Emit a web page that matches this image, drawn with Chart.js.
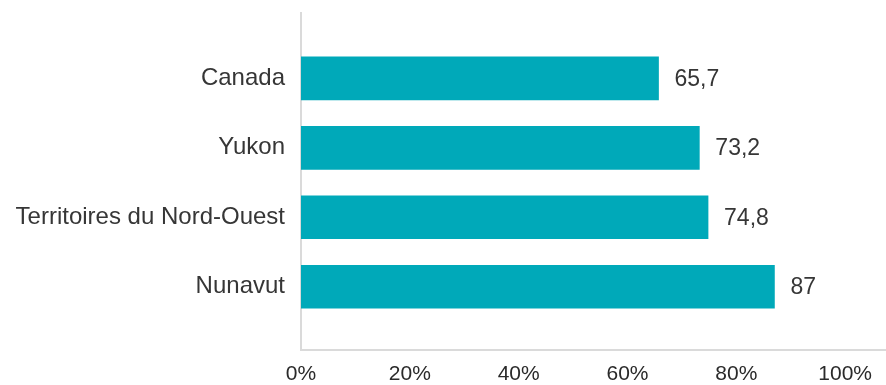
<!DOCTYPE html>
<html lang="fr">
<head>
<meta charset="utf-8">
<script src="https://cdn.jsdelivr.net/npm/chart.js@4/dist/chart.umd.min.js"></script>
<style>
  html, body { margin: 0; padding: 0; background: #fff; }
  #wrap { width: 886px; height: 385px; position: relative; }
</style>
</head>
<body>
<div id="wrap"><canvas id="chart"></canvas></div>
<script>
// Regions and their share (%)
const regions = ['Canada', 'Yukon', 'Territoires du Nord-Ouest', 'Nunavut'];
const shares = [65.7, 73.2, 74.8, 87];
const xTicks = [0, 20, 40, 60, 80, 100];

const BAR_COLOR = '#00a9b9';
const TEXT_COLOR = '#363636';
const AXIS_COLOR = '#dadada';
const FONT = "'Liberation Sans', Arial, Helvetica, sans-serif";

// Writes the value (decimal comma) to the right of each bar
const valueLabels = {
    id: 'valueLabels',
    afterDatasetsDraw(chart) {
        const ctx = chart.ctx;
        const meta = chart.getDatasetMeta(0);
        ctx.save();
        ctx.font = `23px ${FONT}`;
        ctx.fillStyle = TEXT_COLOR;
        ctx.textAlign = 'left';
        ctx.textBaseline = 'middle';
        meta.data.forEach((bar, i) => {
            const txt = String(shares[i]).replace('.', ',');
            ctx.fillText(txt, bar.x + 16, bar.y + 1);
        });
        ctx.restore();
    }
};

new Chart(document.getElementById('chart'), {
    type: 'bar',
    data: {
        datasets: [{
            data: shares.map((v, i) => ({ x: v, y: i })),
            backgroundColor: BAR_COLOR,
            borderWidth: 0,
            barThickness: 43,
        }],
    },
    options: {
        indexAxis: 'y',
        responsive: true,
        maintainAspectRatio: false,
        animation: false,
        layout: { padding: { top: 13, right: 0, bottom: 0, left: 0 } },
        plugins: {
            legend: { display: false },
            tooltip: { enabled: false },
        },
        scales: {
            x: {
                type: 'linear',
                min: 0,
                max: 107.5,
                afterBuildTicks: s => { s.ticks = xTicks.map(v => ({ value: v })); },
                afterFit: s => { s.height = 35; },
                grid: { display: false, drawTicks: false },
                border: { display: true, color: AXIS_COLOR, width: 2 },
                ticks: {
                    color: '#2a2a2a',
                    font: { family: FONT, size: 21 },
                    padding: 12,
                    maxRotation: 0,
                    autoSkip: false,
                    callback: v => v + '%',
                },
            },
            y: {
                type: 'linear',
                reverse: true,
                offset: false,
                min: -0.94,
                max: 3.91,
                afterBuildTicks: s => { s.ticks = regions.map((_, i) => ({ value: i })); },
                afterFit: s => {
                    s.width = 301;
                    // labels sit well inside the axis, no overflow room needed
                    s.paddingTop = 0;
                    s.paddingBottom = 0;
                },
                grid: { display: false, drawTicks: false },
                border: { display: true, color: AXIS_COLOR, width: 2 },
                ticks: {
                    color: TEXT_COLOR,
                    font: { family: FONT, size: 24 },
                    padding: 16,
                    autoSkip: false,
                    callback: v => regions[v] ?? '',
                },
            },
        },
    },
    plugins: [valueLabels],
});
</script>
</body>
</html>
